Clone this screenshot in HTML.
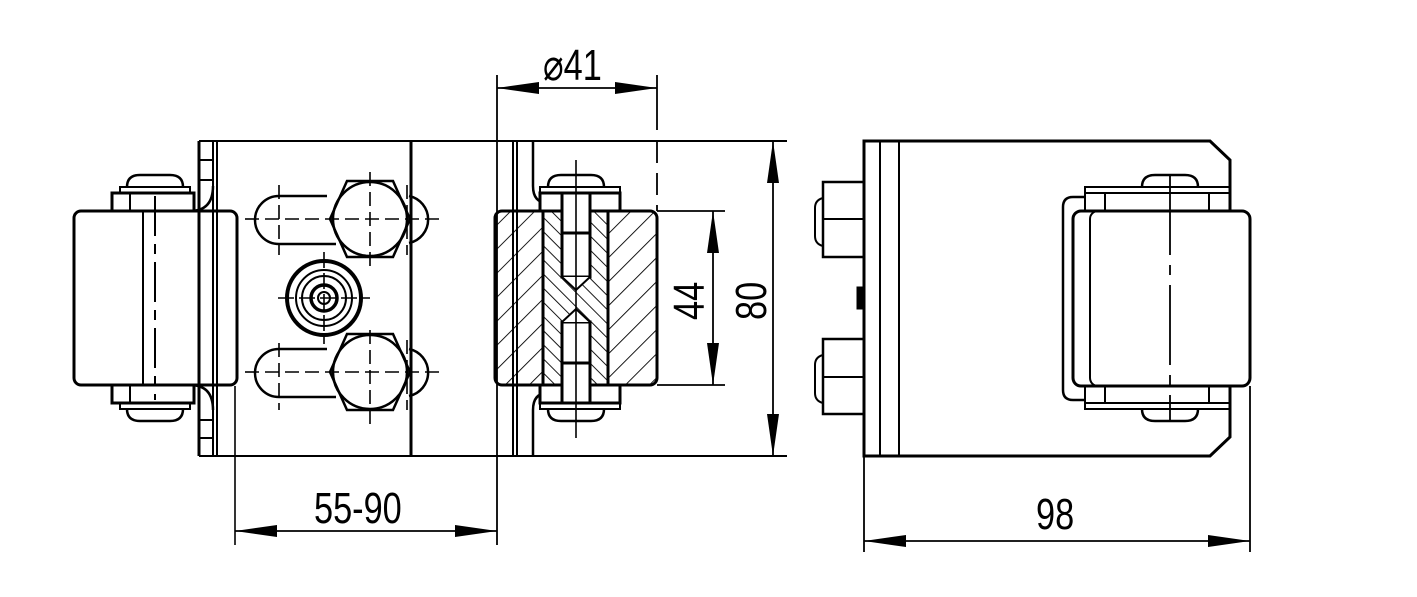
<!DOCTYPE html>
<html><head><meta charset="utf-8"><style>
html,body{margin:0;padding:0;background:#fff;}
svg{display:block;}
text{font-family:"Liberation Sans",sans-serif;font-size:44px;fill:#000;}
</style></head><body>
<svg width="1417" height="597" viewBox="0 0 1417 597" xmlns="http://www.w3.org/2000/svg">
<defs>
<pattern id="h1" patternUnits="userSpaceOnUse" width="17" height="17" patternTransform="rotate(45)">
<line x1="0" y1="0" x2="0" y2="17" stroke="#000" stroke-width="1.8"/></pattern>
<pattern id="h2" patternUnits="userSpaceOnUse" width="10" height="10" patternTransform="rotate(-45)">
<line x1="0" y1="0" x2="0" y2="10" stroke="#000" stroke-width="1.8"/></pattern>
<marker id="a" viewBox="0 0 42 12" refX="42" refY="6" markerWidth="42" markerHeight="12" markerUnits="userSpaceOnUse" orient="auto-start-reverse">
<path d="M0,0 L42,6 L0,12 Z" fill="#000"/></marker>
</defs>
<g fill="none" stroke="#000" stroke-width="3">
<line x1="199" y1="141" x2="787" y2="141" stroke-width="2"/>
<line x1="199" y1="456" x2="787" y2="456" stroke-width="2"/>
<line x1="199" y1="141" x2="199" y2="456"/>
<line x1="213" y1="141" x2="213" y2="456" stroke-width="2"/>
<line x1="217" y1="141" x2="217" y2="456" stroke-width="2"/>
<line x1="411" y1="141" x2="411" y2="456"/>
<path d="M199,160 H213 M199,180 H213 M199,420 H213 M199,438 H213" stroke-width="2"/>
<path d="M213,186 Q213,211 190,211" stroke-width="2.5"/>
<path d="M213,410 Q213,385 190,385" stroke-width="2.5"/>
<rect x="74" y="211" width="163" height="174" rx="7"/>
<line x1="143" y1="211" x2="143" y2="385" stroke-width="2"/>
<line x1="155" y1="196" x2="155" y2="400" stroke-width="2" stroke-dasharray="40,8,10,8"/>
<rect x="112" y="193" width="82" height="18"/>
<line x1="130" y1="193" x2="130" y2="211" stroke-width="2"/>
<rect x="120" y="187" width="70" height="6" stroke-width="2"/>
<path d="M127,187 Q127,175 140,175 H170 Q183,175 183,187" stroke-width="2.5"/>
<rect x="112" y="385" width="82" height="18"/>
<line x1="130" y1="385" x2="130" y2="403" stroke-width="2"/>
<rect x="120" y="403" width="70" height="6" stroke-width="2"/>
<path d="M127,409 Q127,421 140,421 H170 Q183,421 183,409" stroke-width="2.5"/>
<path d="M327,196 H279 A24,24 0 0 0 279,244 H336" stroke-width="2.5"/>
<path d="M409,196 A24,24 0 0 1 409,243" stroke-width="2.5"/>
<circle cx="370" cy="219" r="37" stroke-width="2.5"/>
<polygon points="347,181 393,181 410,219 393,257 347,257 330,219" stroke-width="2.5"/>
<path d="M327,349 H279 A24,24 0 0 0 279,397 H336" stroke-width="2.5"/>
<path d="M409,349 A24,24 0 0 1 409,396" stroke-width="2.5"/>
<circle cx="370" cy="372" r="37" stroke-width="2.5"/>
<polygon points="347,334 393,334 410,372 393,410 347,410 330,372" stroke-width="2.5"/>
<g stroke-width="1.6" stroke-dasharray="14,6">
<line x1="245" y1="219" x2="440" y2="219"/><line x1="245" y1="372" x2="440" y2="372"/>
<line x1="279" y1="185" x2="279" y2="255"/><line x1="279" y1="343" x2="279" y2="410"/>
<line x1="370" y1="172" x2="370" y2="268"/><line x1="370" y1="330" x2="370" y2="425"/>
<line x1="407" y1="185" x2="407" y2="255"/><line x1="407" y1="340" x2="407" y2="410"/>
</g>
<circle cx="324" cy="298" r="37" stroke-width="4"/>
<circle cx="324" cy="298" r="28" stroke-width="2"/>
<circle cx="324" cy="298" r="22" stroke-width="2"/>
<circle cx="324" cy="298" r="13" stroke-width="3.5"/>
<circle cx="324" cy="298" r="6" stroke-width="2"/>
<path d="M278,298 H370 M324,252 V344" stroke-width="1.6" stroke-dasharray="16,5"/>
<line x1="235" y1="386" x2="235" y2="545" stroke-width="1.6"/>
<line x1="497" y1="75" x2="497" y2="545" stroke-width="1.8"/>
<line x1="513" y1="141" x2="513" y2="456" stroke-width="2"/>
<line x1="517" y1="141" x2="517" y2="456" stroke-width="2"/>
<path d="M533,141 V186 Q533,203 548,203" stroke-width="2.5"/>
<path d="M533,456 V410 Q533,393 548,393" stroke-width="2.5"/>
<rect x="495" y="211" width="162" height="174" rx="7" fill="url(#h1)"/>
<rect x="543" y="211" width="65" height="174" fill="#fff"/>
<rect x="543" y="211" width="65" height="174" fill="url(#h2)"/>
<rect x="562" y="193" width="28" height="40" fill="#fff"/>
<rect x="562" y="233" width="28" height="44" fill="#fff"/>
<path d="M562,277 L576,290 L590,277" stroke-width="2" fill="#fff"/>
<rect x="562" y="363" width="28" height="40" fill="#fff"/>
<rect x="562" y="322" width="28" height="41" fill="#fff"/>
<path d="M562,322 L576,309 L590,322" stroke-width="2" fill="#fff"/>
<rect x="540" y="193" width="22" height="18" fill="#fff"/><rect x="590" y="193" width="30" height="18" fill="#fff"/>
<rect x="540" y="385" width="22" height="18" fill="#fff"/><rect x="590" y="385" width="30" height="18" fill="#fff"/>
<rect x="540" y="187" width="80" height="6" stroke-width="2"/>
<rect x="540" y="403" width="80" height="6" stroke-width="2"/>
<path d="M548,187 Q548,175 561,175 H591 Q604,175 604,187" stroke-width="2.5"/>
<path d="M548,409 Q548,421 561,421 H591 Q604,421 604,409" stroke-width="2.5"/>
<line x1="576" y1="160" x2="576" y2="438" stroke-width="1.6"/>
<line x1="657" y1="75" x2="657" y2="130" stroke-width="1.8"/>
<line x1="657" y1="141" x2="657" y2="211" stroke-width="1.8" stroke-dasharray="22,10"/>
<g stroke-width="1.8">
<line x1="497" y1="88" x2="657" y2="88" marker-start="url(#a)" marker-end="url(#a)"/>
<line x1="657" y1="211" x2="725" y2="211"/><line x1="657" y1="385" x2="725" y2="385"/>
<line x1="713" y1="211" x2="713" y2="385" marker-start="url(#a)" marker-end="url(#a)"/>
<line x1="773" y1="141" x2="773" y2="456" marker-start="url(#a)" marker-end="url(#a)"/>
<line x1="235" y1="531" x2="497" y2="531" marker-start="url(#a)" marker-end="url(#a)"/>
<line x1="864" y1="456" x2="864" y2="552"/><line x1="1250" y1="386" x2="1250" y2="552"/>
<line x1="864" y1="541" x2="1250" y2="541" marker-start="url(#a)" marker-end="url(#a)"/>
</g>
<path d="M864,141 H1210 L1230,160 V437 L1210,456 H864 Z"/>
<line x1="880" y1="141" x2="880" y2="456" stroke-width="2"/>
<line x1="899" y1="141" x2="899" y2="456" stroke-width="2"/>
<rect x="823" y="182" width="41" height="75" stroke-width="2.5"/>
<line x1="823" y1="219" x2="864" y2="219" stroke-width="2"/>
<path d="M823,198 Q815,200 815,208 V236 Q815,244 823,246" stroke-width="2"/>
<rect x="823" y="339" width="41" height="75" stroke-width="2.5"/>
<line x1="823" y1="377" x2="864" y2="377" stroke-width="2"/>
<path d="M823,355 Q815,357 815,365 V393 Q815,401 823,403" stroke-width="2"/>
<rect x="858" y="288" width="6" height="20" fill="#000"/>
<path d="M1085,197 H1073 Q1063,197 1063,207 V390 Q1063,400 1073,400 H1085" stroke-width="2.5"/>
<rect x="1085" y="193" width="145" height="18" stroke-width="2"/>
<rect x="1085" y="385" width="145" height="18" stroke-width="2"/>
<line x1="1105" y1="193" x2="1105" y2="211" stroke-width="2"/><line x1="1209" y1="193" x2="1209" y2="211" stroke-width="2"/>
<line x1="1105" y1="385" x2="1105" y2="403" stroke-width="2"/><line x1="1209" y1="385" x2="1209" y2="403" stroke-width="2"/>
<rect x="1085" y="187" width="145" height="6" stroke-width="2"/>
<rect x="1085" y="403" width="145" height="6" stroke-width="2"/>
<path d="M1142,187 Q1142,175 1155,175 H1185 Q1198,175 1198,187" stroke-width="2.5"/>
<path d="M1142,409 Q1142,421 1155,421 H1185 Q1198,421 1198,409" stroke-width="2.5"/>
<rect x="1073" y="211" width="177" height="175" rx="8" fill="#fff"/>
<rect x="1090" y="211" width="160" height="175" rx="8" stroke-width="2"/>
<line x1="1170" y1="175" x2="1170" y2="421" stroke-width="1.8" stroke-dasharray="80,10,10,10"/>
</g>
<g>
<text transform="translate(543,80) scale(0.78,1)">⌀41</text>
<text transform="translate(314,523) scale(0.78,1)">55-90</text>
<text transform="translate(1036,529) scale(0.78,1)">98</text>
<text transform="translate(704,320) rotate(-90) scale(0.78,1)">44</text>
<text transform="translate(766,320) rotate(-90) scale(0.78,1)">80</text>
</g>
</svg>
</body></html>
